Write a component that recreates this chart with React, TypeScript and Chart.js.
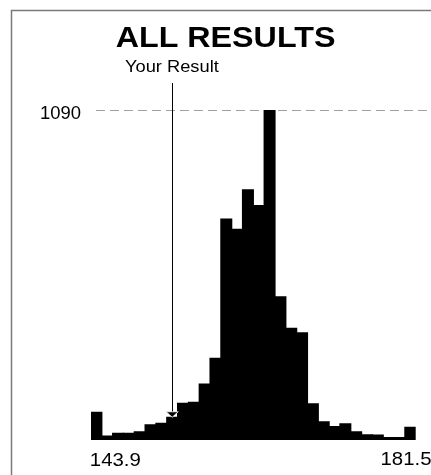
import React, { useEffect, useRef } from "react";
import { Chart, registerables } from "chart.js";

Chart.register(...registerables);

const titleText = "ALL RESULTS";
const resultLabel = "Your Result";
const binStart = 143.9;
const binEnd = 181.5;
const counts = [91, 13, 22, 22, 27, 50, 55, 75, 121, 124, 185, 270, 730, 696, 826, 774, 1090, 473, 369, 354, 119, 60, 44, 53, 27, 17, 16, 8, 8, 42];
const yourResult = 153.3;
const peakValue = 1090;
const axisLabels = ["143.9", "181.5"];

const FONT = '"Liberation Sans", Arial, Helvetica, sans-serif';

function fitText(ctx: CanvasRenderingContext2D, text: string, font: string, inkLeft: number, inkWidth: number, baseline: number) {
  ctx.save();
  ctx.font = font;
  const m = ctx.measureText(text);
  const w = m.actualBoundingBoxLeft + m.actualBoundingBoxRight;
  const s = inkWidth / w;
  ctx.translate(inkLeft, baseline);
  ctx.scale(s, 1);
  ctx.textAlign = "left";
  ctx.textBaseline = "alphabetic";
  ctx.fillStyle = "#000";
  ctx.fillText(text, m.actualBoundingBoxLeft, 0);
  ctx.restore();
  return s;
}

const decorPlugin = {
  id: "decor",
  beforeDatasetsDraw(chart: any) {
    const ctx = chart.ctx as CanvasRenderingContext2D;
    const ys = chart.scales.y;
    const xs = chart.scales.x;
    const y = Math.round(ys.getPixelForValue(peakValue)) + 0.5;
    ctx.save();
    ctx.strokeStyle = "#a0a0a0";
    ctx.lineWidth = 1.2;
    ctx.setLineDash([9, 5]);
    ctx.beginPath();
    ctx.moveTo(xs.left + 5, y);
    ctx.lineTo(xs.right + 12, y);
    ctx.stroke();
    ctx.restore();
  },
  afterDraw(chart: any) {
    const ctx = chart.ctx as CanvasRenderingContext2D;
    const xs = chart.scales.x;
    const ys = chart.scales.y;
    const W = chart.width;
    const H = chart.height;

    // frame
    ctx.save();
    ctx.strokeStyle = "#7a7a7a";
    ctx.lineWidth = 1.5;
    ctx.beginPath();
    ctx.moveTo(11.5, H);
    ctx.lineTo(11.5, 10.5);
    ctx.lineTo(W, 10.5);
    ctx.stroke();
    ctx.restore();

    // title
    fitText(ctx, titleText, `bold 30px ${FONT}`, 115.7, 218.6, 46.7);

    // your result
    const rx = xs.getPixelForValue(yourResult);
    fitText(ctx, resultLabel, `16.5px ${FONT}`, rx - 47.2, 94.3, 71.7);

    const binW = (binEnd - binStart) / counts.length;
    const idx = Math.min(counts.length - 1, Math.floor((yourResult - binStart) / binW));
    const tipY = ys.getPixelForValue(counts[idx]);
    const lx = Math.round(rx) + 0.5;
    ctx.save();
    ctx.strokeStyle = "#000";
    ctx.lineWidth = 1;
    ctx.beginPath();
    ctx.moveTo(lx, 83);
    ctx.lineTo(lx, tipY - 4);
    ctx.stroke();
    ctx.beginPath();
    ctx.moveTo(rx - 6, tipY - 5.5);
    ctx.lineTo(rx + 6, tipY - 5.5);
    ctx.lineTo(rx, tipY);
    ctx.closePath();
    ctx.fillStyle = "#000";
    ctx.fill();
    ctx.strokeStyle = "#fff";
    ctx.lineWidth = 0.8;
    ctx.stroke();
    ctx.restore();

    // peak label
    const py = ys.getPixelForValue(peakValue);
    fitText(ctx, String(peakValue), `18px ${FONT}`, xs.left - 50, 40, py + 8.7);

    // axis labels
    const s = fitText(ctx, axisLabels[0], `17.5px ${FONT}`, xs.left, 49, H - 9.5);
    ctx.save();
    ctx.font = `17.5px ${FONT}`;
    const m = ctx.measureText(axisLabels[1]);
    const w = (m.actualBoundingBoxLeft + m.actualBoundingBoxRight) * s;
    ctx.restore();
    fitText(ctx, axisLabels[1], `17.5px ${FONT}`, xs.right - 34, w, H - 10);
  },
};

export default function App() {
  const ref = useRef<HTMLCanvasElement | null>(null);
  useEffect(() => {
    document.body.style.margin = "0";
    const binW = (binEnd - binStart) / counts.length;
    const data = counts.map((c, i) => ({ x: binStart + (i + 0.5) * binW, y: c }));
    const chart = new Chart(ref.current as HTMLCanvasElement, {
      type: "bar",
      data: {
        datasets: [
          {
            data: data as any,
            backgroundColor: "#000",
            borderWidth: 0,
            barPercentage: 1,
            categoryPercentage: 1,
            inflateAmount: 0.6,
          } as any,
        ],
      },
      options: {
        responsive: false,
        animation: false,
        devicePixelRatio: 1,
        layout: { padding: { left: 91, right: 15.3, top: 110, bottom: 35 } },
        plugins: { legend: { display: false }, tooltip: { enabled: false }, title: { display: false } },
        scales: {
          x: { type: "linear", min: binStart, max: binEnd, offset: false, display: false },
          y: { min: 0, max: peakValue, display: false },
        },
      },
      plugins: [decorPlugin],
    });
    return () => chart.destroy();
  }, []);
  return (
    <div style={{ width: 431, height: 475, background: "#fff" }}>
      <canvas ref={ref} width={431} height={475} style={{ display: "block" }} />
    </div>
  );
}
